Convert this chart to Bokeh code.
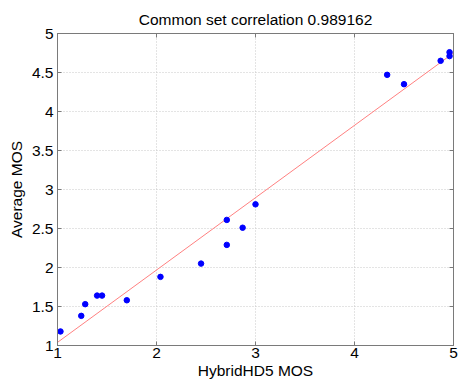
from bokeh.plotting import figure
from bokeh.models import Range1d, LinearAxis, FixedTicker, CustomJSTickFormatter
from bokeh.embed import file_html
from bokeh.resources import INLINE

# Data
hybrid_mos = [1.03, 1.24, 1.28, 1.40, 1.45, 1.70, 2.04, 2.45, 2.71, 2.71,
              2.87, 3.00, 4.33, 4.50, 4.87, 4.96, 4.96]
average_mos = [1.18, 1.38, 1.53, 1.64, 1.64, 1.58, 1.88, 2.05, 2.29, 2.61,
               2.51, 2.81, 4.47, 4.35, 4.65, 4.71, 4.76]
fit_x = [1.0, 5.0]
fit_y = [1.04, 4.75]
x_ticks = [1, 2, 3, 4, 5]
y_ticks = [1, 1.5, 2, 2.5, 3, 3.5, 4, 4.5, 5]
title_text = "Common set correlation 0.989162"
x_label = "HybridHD5 MOS"
y_label = "Average MOS"

FONT = "Liberation Sans"
AXIS_COLOR = "#7a7a7a"

p = figure(width=459, height=387, output_backend="svg", toolbar_location=None,
           x_range=Range1d(1, 5), y_range=Range1d(1, 5),
           min_border_left=57, min_border_right=6, min_border_top=33,
           min_border_bottom=42, title=title_text)
p.title.align = "center"
p.title.text_font = FONT
p.title.text_font_size = "15.5px"
p.title.text_font_style = "normal"
p.title.text_color = "black"
p.title.offset = 0
p.title.standoff = 12
p.background_fill_color = "white"
p.border_fill_color = "white"
p.outline_line_color = AXIS_COLOR
p.outline_line_width = 1

for ax, ticks in ((p.xaxis[0], x_ticks), (p.yaxis[0], y_ticks)):
    ax.ticker = FixedTicker(ticks=ticks)
    ax.axis_line_color = AXIS_COLOR
    ax.major_tick_line_color = AXIS_COLOR
    ax.major_tick_in = 4
    ax.major_tick_out = 0
    ax.minor_tick_line_color = None
    ax.major_label_text_font = FONT
    ax.major_label_text_font_size = "15.5px"
    ax.major_label_text_color = "black"
    ax.axis_label_text_font = FONT
    ax.axis_label_text_font_size = "15.5px"
    ax.axis_label_text_font_style = "normal"
    ax.axis_label_text_color = "black"

p.xaxis[0].axis_label = x_label
p.yaxis[0].axis_label = y_label
p.xaxis[0].major_label_standoff = 2
p.xaxis[0].axis_label_standoff = 1
p.yaxis[0].major_label_standoff = 4
p.yaxis[0].axis_label_standoff = 4
p.yaxis[0].major_label_orientation = "horizontal"

# Mirror ticks on top and right (MATLAB box), without labels
blank = CustomJSTickFormatter(code="return ''")
top = LinearAxis(ticker=FixedTicker(ticks=x_ticks), formatter=blank,
                 axis_line_color=AXIS_COLOR, major_tick_line_color=AXIS_COLOR,
                 major_tick_in=4, major_tick_out=0, minor_tick_line_color=None,
                 major_label_standoff=0)
right = LinearAxis(ticker=FixedTicker(ticks=y_ticks), formatter=blank,
                   axis_line_color=AXIS_COLOR, major_tick_line_color=AXIS_COLOR,
                   major_tick_in=4, major_tick_out=0, minor_tick_line_color=None,
                   major_label_standoff=0)
p.add_layout(top, "above")
p.add_layout(right, "right")

p.xgrid.ticker = FixedTicker(ticks=x_ticks)
p.ygrid.ticker = FixedTicker(ticks=y_ticks)
p.grid.grid_line_color = "#c8c8c8"
p.grid.grid_line_dash = "1 2"
p.grid.grid_line_width = 1

p.line(fit_x, fit_y, line_color="#ff8080", line_width=1)
p.scatter(hybrid_mos, average_mos, size=5.5, fill_color="#0000ff", line_color="#0000ff")

open("out.html", "w").write(file_html(p, INLINE))
